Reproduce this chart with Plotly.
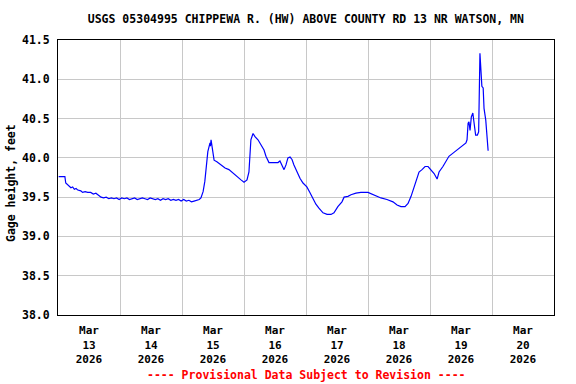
import plotly.graph_objects as go

# ---- data ----
times = [
    "2026-03-12 12:15", "2026-03-12 14:40", "2026-03-12 15:00", "2026-03-12 15:50",
    "2026-03-12 17:00", "2026-03-12 17:40", "2026-03-12 18:20", "2026-03-12 19:00",
    "2026-03-12 19:40", "2026-03-12 20:50", "2026-03-12 21:30", "2026-03-12 22:30",
    "2026-03-12 23:30", "2026-03-13 00:40", "2026-03-13 01:40", "2026-03-13 02:40",
    "2026-03-13 03:40", "2026-03-13 04:40", "2026-03-13 05:40", "2026-03-13 06:40",
    "2026-03-13 07:40", "2026-03-13 08:40", "2026-03-13 09:40", "2026-03-13 10:40",
    "2026-03-13 11:40", "2026-03-13 12:40", "2026-03-13 13:40", "2026-03-13 14:40",
    "2026-03-13 15:40", "2026-03-13 16:40", "2026-03-13 17:40", "2026-03-13 18:40",
    "2026-03-13 19:40", "2026-03-13 20:40", "2026-03-13 21:40", "2026-03-13 22:40",
    "2026-03-13 23:40", "2026-03-14 00:40", "2026-03-14 01:40", "2026-03-14 02:40",
    "2026-03-14 03:40", "2026-03-14 04:40", "2026-03-14 05:40", "2026-03-14 06:40",
    "2026-03-14 07:40", "2026-03-14 08:40", "2026-03-14 09:40", "2026-03-14 10:40",
    "2026-03-14 11:40", "2026-03-14 12:40", "2026-03-14 13:40", "2026-03-14 14:40",
    "2026-03-14 15:40", "2026-03-14 16:40", "2026-03-14 17:40", "2026-03-14 18:40",
    "2026-03-14 19:20", "2026-03-14 20:10", "2026-03-14 20:50", "2026-03-14 21:20",
    "2026-03-14 21:40", "2026-03-14 22:00", "2026-03-14 22:50", "2026-03-14 23:00",
    "2026-03-14 23:15", "2026-03-14 23:35", "2026-03-15 00:00", "2026-03-15 00:25",
    "2026-03-15 01:30", "2026-03-15 03:00", "2026-03-15 04:40", "2026-03-15 06:10",
    "2026-03-15 07:45", "2026-03-15 09:15", "2026-03-15 10:50", "2026-03-15 12:00",
    "2026-03-15 13:10", "2026-03-15 13:55", "2026-03-15 14:40", "2026-03-15 15:30",
    "2026-03-15 16:15", "2026-03-15 17:25", "2026-03-15 18:35", "2026-03-15 19:45",
    "2026-03-15 20:30", "2026-03-15 21:40", "2026-03-15 23:15", "2026-03-16 01:10",
    "2026-03-16 01:55", "2026-03-16 02:45", "2026-03-16 03:30", "2026-03-16 04:15",
    "2026-03-16 05:00", "2026-03-16 05:50", "2026-03-16 06:35", "2026-03-16 07:20",
    "2026-03-16 08:30", "2026-03-16 09:40", "2026-03-16 10:50", "2026-03-16 12:20",
    "2026-03-16 13:30", "2026-03-16 14:40", "2026-03-16 15:50", "2026-03-16 17:00",
    "2026-03-16 18:35", "2026-03-16 20:10", "2026-03-16 21:40", "2026-03-16 22:50",
    "2026-03-17 00:20", "2026-03-17 01:55", "2026-03-17 02:45", "2026-03-17 04:15",
    "2026-03-17 05:25", "2026-03-17 07:20", "2026-03-17 09:15", "2026-03-17 12:00",
    "2026-03-17 12:45", "2026-03-17 14:20", "2026-03-17 17:00", "2026-03-17 19:20",
    "2026-03-17 21:40", "2026-03-17 23:15", "2026-03-18 00:45", "2026-03-18 02:20",
    "2026-03-18 03:30", "2026-03-18 04:40", "2026-03-18 05:50", "2026-03-18 07:00",
    "2026-03-18 07:45", "2026-03-18 08:55", "2026-03-18 10:05", "2026-03-18 11:15",
    "2026-03-18 12:25", "2026-03-18 13:35", "2026-03-18 14:45", "2026-03-18 15:30",
    "2026-03-18 17:00", "2026-03-18 18:10", "2026-03-18 19:20", "2026-03-18 20:55",
    "2026-03-18 22:25", "2026-03-19 00:00", "2026-03-19 01:55", "2026-03-19 02:20",
    "2026-03-19 02:45", "2026-03-19 03:05", "2026-03-19 03:30", "2026-03-19 04:00",
    "2026-03-19 04:35", "2026-03-19 05:00", "2026-03-19 05:40", "2026-03-19 06:20",
    "2026-03-19 06:50", "2026-03-19 07:20", "2026-03-19 07:45", "2026-03-19 08:05",
    "2026-03-19 08:35", "2026-03-19 08:55", "2026-03-19 09:35", "2026-03-19 09:55",
    "2026-03-19 10:10", "2026-03-19 10:30",
]
gage_height = [
    39.76, 39.76, 39.68, 39.65,
    39.62, 39.63, 39.60, 39.61,
    39.59, 39.58, 39.56, 39.57,
    39.56, 39.56, 39.54, 39.55,
    39.52, 39.50, 39.49, 39.50,
    39.48, 39.49, 39.48, 39.49,
    39.47, 39.49, 39.48, 39.49,
    39.47, 39.48, 39.49, 39.47,
    39.48, 39.49, 39.48, 39.47,
    39.49, 39.48, 39.47, 39.48,
    39.46, 39.48, 39.47, 39.48,
    39.46, 39.47, 39.46, 39.47,
    39.45, 39.47, 39.45, 39.46,
    39.44, 39.45, 39.46, 39.47,
    39.49, 39.57, 39.70, 39.85,
    40.00, 40.08, 40.19, 40.15,
    40.23, 40.14, 40.06, 39.97,
    39.95, 39.91, 39.87, 39.85,
    39.81, 39.76, 39.72, 39.69,
    39.72, 39.82, 40.23, 40.31,
    40.27, 40.23, 40.16, 40.10,
    40.02, 39.94, 39.94, 39.94,
    39.96, 39.91, 39.85, 39.91,
    40.00, 40.01, 39.98, 39.91,
    39.82, 39.74, 39.68, 39.63,
    39.56, 39.49, 39.41, 39.36,
    39.30, 39.28, 39.28, 39.30,
    39.38, 39.44, 39.50, 39.51,
    39.53, 39.55, 39.56, 39.56,
    39.55, 39.52, 39.49, 39.47,
    39.44, 39.40, 39.38, 39.38,
    39.42, 39.51, 39.63, 39.76,
    39.82, 39.85, 39.89, 39.89,
    39.85, 39.80, 39.73, 39.82,
    39.89, 39.95, 40.02, 40.06,
    40.10, 40.15, 40.19, 40.23,
    40.44, 40.46, 40.35, 40.52,
    40.57, 40.46, 40.29, 40.29,
    40.33, 41.33, 41.16, 40.91,
    40.89, 40.63, 40.48, 40.31,
    40.14, 40.09,
]

day_ticks = ["2026-03-13", "2026-03-14", "2026-03-15", "2026-03-16",
             "2026-03-17", "2026-03-18", "2026-03-19", "2026-03-20"]
day_labels = ["Mar<br>13<br>2026", "Mar<br>14<br>2026", "Mar<br>15<br>2026", "Mar<br>16<br>2026",
              "Mar<br>17<br>2026", "Mar<br>18<br>2026", "Mar<br>19<br>2026", "Mar<br>20<br>2026"]
noon_grid = ["2026-03-13 12:00", "2026-03-14 12:00", "2026-03-15 12:00", "2026-03-16 12:00",
             "2026-03-17 12:00", "2026-03-18 12:00", "2026-03-19 12:00"]
y_ticks = [38.0, 38.5, 39.0, 39.5, 40.0, 40.5, 41.0, 41.5]

title_text = "USGS 05304995 CHIPPEWA R. (HW) ABOVE COUNTY RD 13 NR WATSON, MN"
note_text = "---- Provisional Data Subject to Revision ----"
y_title = "Gage height, feet"

FONT = "DejaVu Sans Mono"
GRID = "#c8c8c8"

fig = go.Figure()
fig.add_trace(go.Scatter(
    x=times, y=gage_height, mode="lines",
    line=dict(color="#0000ff", width=1.2), showlegend=False, hoverinfo="x+y",
))

fig.update_layout(
    width=576, height=384, autosize=False,
    margin=dict(l=58, r=22, t=40, b=69, pad=0),
    paper_bgcolor="white", plot_bgcolor="white",
    font=dict(family=FONT, size=11, color="black", weight="bold"),
    title=dict(text=title_text, x=0.531, xanchor="center", y=1 - 19 / 384, yanchor="middle",
               font=dict(family=FONT, size=11.5, color="black", weight="bold")),
    xaxis=dict(
        type="date", range=["2026-03-12 12:00", "2026-03-20 12:00"],
        tickmode="array", tickvals=day_ticks, ticktext=day_labels,
        showgrid=False, ticks="", zeroline=False, ticklabelstandoff=5,
        minor=dict(tickmode="array", tickvals=noon_grid, showgrid=True,
                   gridcolor=GRID, gridwidth=1, ticks=""),
        showline=True, mirror=True, linecolor="black", linewidth=1,
        tickfont=dict(family=FONT, size=11, color="black", weight="bold"),
    ),
    yaxis=dict(
        range=[38.0, 41.5], tickmode="array", tickvals=y_ticks,
        ticktext=[f"{v:.1f}" for v in y_ticks],
        showgrid=True, gridcolor=GRID, gridwidth=1, ticks="", zeroline=False,
        ticklabelstandoff=5,
        showline=True, mirror=True, linecolor="black", linewidth=1,
        tickfont=dict(family=FONT, size=11.5, color="black", weight="bold"),
    ),
    annotations=[
        dict(text=y_title, xref="paper", yref="paper", x=(11 - 58) / 496, y=0.48,
             xanchor="center", yanchor="middle", textangle=-90, showarrow=False,
             font=dict(family=FONT, size=11.5, color="black", weight="bold")),
        dict(text=note_text, xref="paper", yref="paper", x=0.5, y=-60 / 275,
             xanchor="center", yanchor="middle", showarrow=False,
             font=dict(family=FONT, size=11.5, color="#ff0000", weight="bold")),
    ],
)

fig.write_html("out.html",
               config={"displayModeBar": False},
               post_script="document.body.style.margin='0';document.body.style.padding='0';")
